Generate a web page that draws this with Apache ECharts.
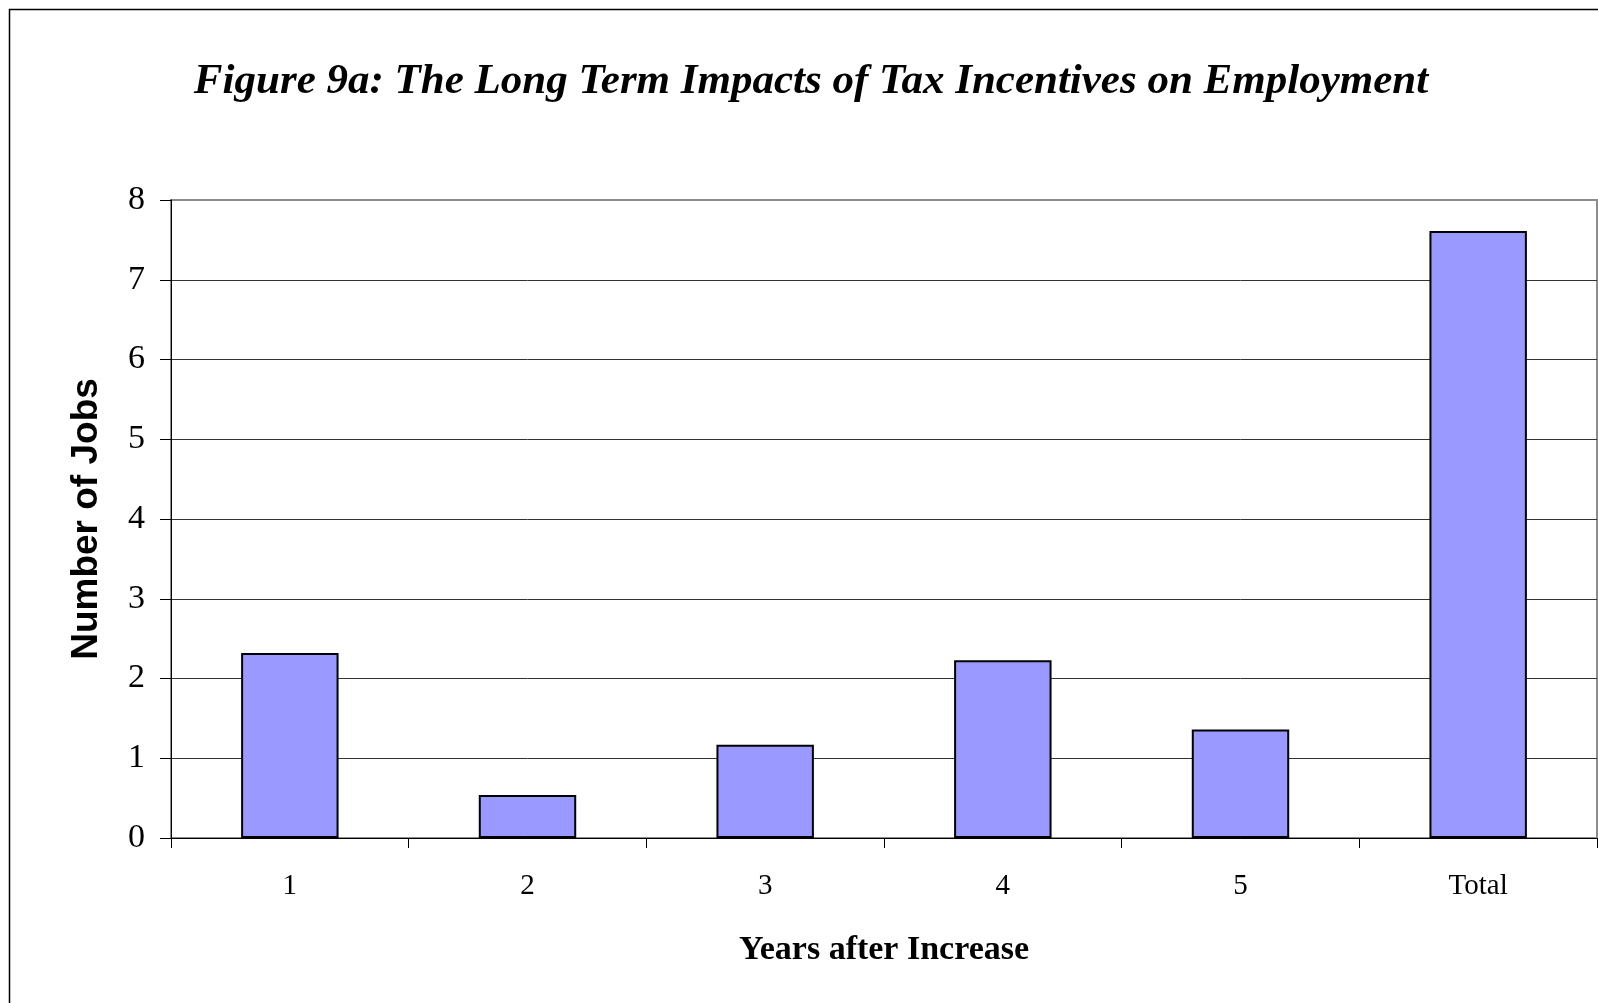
<!DOCTYPE html>
<html>
<head>
<meta charset="utf-8">
<script src="https://cdn.jsdelivr.net/npm/echarts@6/dist/echarts.min.js"></script>
<style>
html,body{margin:0;padding:0;background:#fff;}
#chart{width:1598px;height:1003px;}
</style>
</head>
<body>
<div id="chart"></div>
<script>
const categories = ['1', '2', '3', '4', '5', 'Total'];
const jobs = [2.32, 0.54, 1.17, 2.23, 1.36, 7.61];
const yTicks = [0, 1, 2, 3, 4, 5, 6, 7, 8];

const chart = echarts.init(document.getElementById('chart'), null, {renderer: 'canvas'});
const serif = '"Liberation Serif", "Times New Roman", serif';
const sans = '"Liberation Sans", Arial, sans-serif';
const splitColors = yTicks.map((v, i) => i === yTicks.length - 1 ? '#8c8c8c' : '#333333');

chart.setOption({
  animation: false,
  backgroundColor: '#ffffff',
  title: {
    text: 'Figure 9a: The Long Term Impacts of Tax Incentives on Employment',
    left: 806,
    textAlign: 'center',
    top: 55,
    textStyle: {fontFamily: serif, fontSize: 43, fontWeight: 'bold', fontStyle: 'italic', color: '#000'}
  },
  graphic: [{
    type: 'rect',
    shape: {x: 9.5, y: 9.5, width: 2000, height: 2000},
    style: {fill: 'none', stroke: '#000', lineWidth: 1.5},
    silent: true,
    z: -10
  }],
  grid: {
    left: 171, top: 200, right: 1, bottom: 165,
    show: true, borderColor: '#8c8c8c', borderWidth: 2, backgroundColor: 'transparent'
  },
  xAxis: {
    type: 'category',
    data: categories,
    name: 'Years after Increase',
    nameLocation: 'middle',
    nameGap: 95,
    nameTextStyle: {fontFamily: serif, fontSize: 34, fontWeight: 'bold', color: '#000'},
    axisLine: {show: true, lineStyle: {color: '#000', width: 1}},
    axisTick: {show: true, length: 10, lineStyle: {color: '#000'}},
    axisLabel: {fontFamily: serif, fontSize: 29, color: '#000', margin: 34},
    splitLine: {show: false}
  },
  yAxis: {
    type: 'value',
    min: 0, max: 8, interval: 1,
    name: 'Number of Jobs',
    nameLocation: 'middle',
    nameRotate: 90,
    nameGap: 66,
    nameTextStyle: {fontFamily: sans, fontSize: 37, fontWeight: 'bold', color: '#000'},
    axisLine: {show: true, lineStyle: {color: '#000', width: 1}},
    axisTick: {show: true, length: 11, lineStyle: {color: '#000'}},
    axisLabel: {fontFamily: serif, fontSize: 34, color: '#000', margin: 26},
    splitLine: {show: true, lineStyle: {color: splitColors, width: 1}}
  },
  series: [{
    type: 'bar',
    data: jobs,
    barWidth: '41%',
    itemStyle: {color: '#9999ff', borderColor: '#000', borderWidth: 2}
  }]
});
</script>
</body>
</html>
